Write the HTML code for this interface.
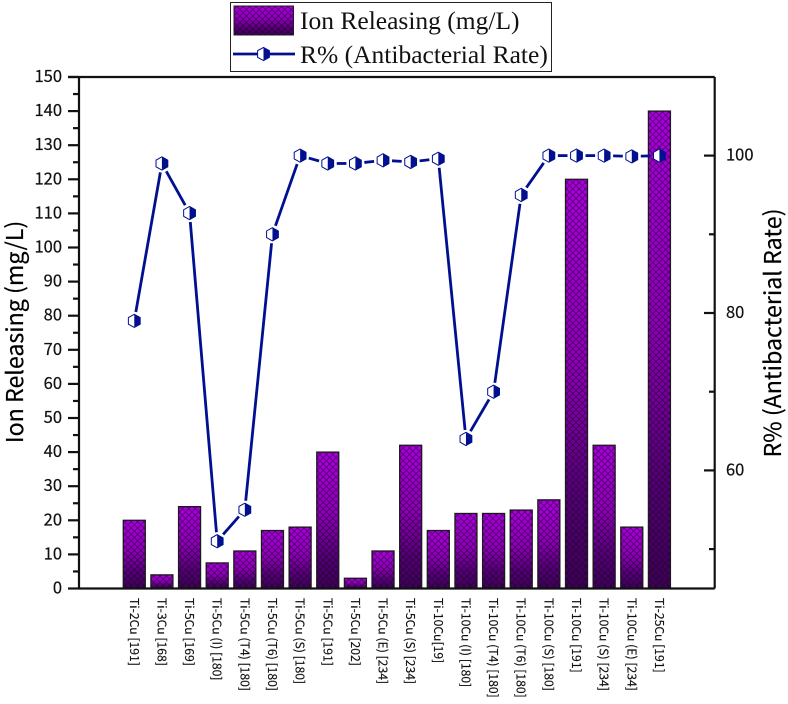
<!DOCTYPE html>
<html>
<head>
<meta charset="utf-8">
<title>Ion Releasing and Antibacterial Rate</title>
<style>
html,body{margin:0;padding:0;background:#fff;}
svg{display:block;}
.tick{font-family:"Noto Sans CJK SC","Liberation Sans",sans-serif;font-size:16.5px;fill:#111;stroke:#111;stroke-width:.2px;}
.cat{font-family:"Noto Sans CJK SC","Liberation Sans",sans-serif;font-size:12.2px;fill:#111;stroke:#111;stroke-width:.15px;}
.title{font-family:"Noto Sans CJK SC","Liberation Sans",sans-serif;font-size:23.2px;fill:#000;stroke:#000;stroke-width:.2px;}
.leg{font-family:"Liberation Serif",serif;font-size:25.5px;fill:#111;}
</style>
</head>
<body>
<svg id="chart" xmlns="http://www.w3.org/2000/svg" width="788" height="704" viewBox="0 0 788 704">
<defs>
<linearGradient id="barGrad" x1="0" y1="0" x2="0" y2="1">
<stop offset="0" stop-color="#a800dc"/>
<stop offset="0.45" stop-color="#8e00b8"/>
<stop offset="0.78" stop-color="#520074"/>
<stop offset="1" stop-color="#3c0055"/>
</linearGradient>
<pattern id="hatch" width="6.4" height="6.4" patternUnits="userSpaceOnUse">
<path d="M0 0L6.4 6.4M6.4 0L0 6.4" stroke="#1a0022" stroke-width="0.9" opacity="0.55" fill="none"/>
</pattern>
</defs>
<g id="bars"></g>
<g id="line"></g>
<g id="axes"></g>
<g>
<rect x="230.5" y="2.5" width="321" height="69" fill="#fff" stroke="#222" stroke-width="1"/>
<rect x="234" y="6" width="59.5" height="29" fill="url(#barGrad)" stroke="#222" stroke-width="1"/>
<rect x="234" y="6" width="59.5" height="29" fill="url(#hatch)"/>
<text class="leg" x="300" y="29">Ion Releasing (mg/L)</text>
<line x1="233" y1="54" x2="295" y2="54" stroke="#00108f" stroke-width="2.8"/>
<g id="legendMarker"></g>
<text class="leg" x="300" y="63">R% (Antibacterial Rate)</text>
</g>
<text class="title" text-anchor="middle" transform="translate(23,332) rotate(-90)">Ion Releasing (mg/L)</text>
<text class="title" text-anchor="middle" transform="translate(781,333) rotate(-90)">R% (Antibacterial Rate)</text>
</svg>
<script>
const categories = ["Ti-2Cu [191]","Ti-3Cu [168]","Ti-5Cu [169]","Ti-5Cu (I) [180]","Ti-5Cu (T4) [180]","Ti-5Cu (T6) [180]","Ti-5Cu (S) [180]","Ti-5Cu [191]","Ti-5Cu [202]","Ti-5Cu (E) [234]","Ti-5Cu (S) [234]","Ti-10Cu[19]","Ti-10Cu (I) [180]","Ti-10Cu (T4) [180]","Ti-10Cu (T6) [180]","Ti-10Cu (S) [180]","Ti-10Cu [191]","Ti-10Cu (S) [234]","Ti-10Cu (E) [234]","Ti-25Cu [191]"];
const ionValues = [20,4,24,7.5,11,17,18,40,3,11,42,17,22,22,23,26,120,42,18,140];
const rateValues = [79,99,92.7,51,55,90,100,99,99,99.4,99.2,99.6,64,70,95,100,100,100,99.9,100];
const leftMajorTicks = [0,10,20,30,40,50,60,70,80,90,100,110,120,130,140,150];
const leftMinorTicks = [5,15,25,35,45,55,65,75,85,95,105,115,125,135,145];
const rightMajorTicks = [60,80,100];
const rightMinorTicks = [50,70,90];

const NS = "http://www.w3.org/2000/svg";
const plotL = 79, plotR = 714.7, plotT = 77, plotB = 588.5;
function xScale(i){ return plotL + (i + 2) * (plotR - plotL) / 23; }
function yLeft(v){ return plotB - v * (plotB - plotT) / 150; }
function yRight(v){ return 155.6 + (100 - v) * 7.87; }
function make(tag, attrs, parent){
  const el = document.createElementNS(NS, tag);
  for (const k in attrs) el.setAttribute(k, attrs[k]);
  parent.appendChild(el);
  return el;
}
function hexMarker(parent, cx, cy){
  const r = 6.6, w = 5.9;
  make("polygon",{points:[[cx,cy-r],[cx+w,cy-r/2],[cx+w,cy+r/2],[cx,cy+r],[cx-w,cy+r/2],[cx-w,cy-r/2]].map(p=>p.join(",")).join(" "),fill:"#fff",stroke:"#00108f","stroke-width":1},parent);
  make("polygon",{points:[[cx,cy-r],[cx+w,cy-r/2],[cx+w,cy+r/2],[cx,cy+r]].map(p=>p.join(",")).join(" "),fill:"#00108f"},parent);
}
const barsG = document.getElementById("bars");
const lineG = document.getElementById("line");
const axesG = document.getElementById("axes");

ionValues.forEach(function(v,i){
  const x = xScale(i) - 11, y = yLeft(v), h = plotB - y;
  const g = make("g",{},barsG);
  
  
  make("rect",{x:x,y:y,width:22,height:h,fill:"url(#barGrad)",stroke:"#1c1c1c","stroke-width":1.3},g);
  make("rect",{x:x,y:y,width:22,height:h,fill:"url(#hatch)"},g);
});

for (let i = 0; i < rateValues.length - 1; i++){
  const x1 = xScale(i), y1 = yRight(rateValues[i]), x2 = xScale(i+1), y2 = yRight(rateValues[i+1]);
  const d = Math.hypot(x2-x1,y2-y1), gap = 9;
  if (d <= 2*gap) continue;
  const ux = (x2-x1)/d, uy = (y2-y1)/d;
  const seg = make("line",{x1:x1+ux*gap,y1:y1+uy*gap,x2:x2-ux*gap,y2:y2-uy*gap,stroke:"#00108f","stroke-width":2.8},lineG);
  
  
}
rateValues.forEach(function(v,i){
  const g = make("g",{},lineG);
  
  
  hexMarker(g, xScale(i), yRight(v));
});
hexMarker(document.getElementById("legendMarker"), 263.5, 54);

const ax = {stroke:"#111","stroke-width":2.2};
[[plotL,plotT,plotL,plotB],[plotR,plotT,plotR,plotB],[68,plotT,plotR,plotT],[plotL,plotB,plotR,plotB]].forEach(function(c){
  const l = make("line",Object.assign({x1:c[0],y1:c[1],x2:c[2],y2:c[3]},ax),axesG);
  
  
});
leftMajorTicks.forEach(function(v){
  const y = yLeft(v);
  const t = make("line",Object.assign({x1:68,y1:y,x2:plotL,y2:y},ax),axesG);
  
  
  const s = make("text",{x:62,y:y+5,"text-anchor":"end","class":"tick"},axesG);
  
  
  s.textContent = v;
});
leftMinorTicks.forEach(function(v){
  const y = yLeft(v);
  const t = make("line",Object.assign({x1:73,y1:y,x2:plotL,y2:y},ax),axesG);
  
  
});
rightMajorTicks.forEach(function(v){
  const y = yRight(v);
  const t = make("line",Object.assign({x1:704,y1:y,x2:plotR,y2:y},ax),axesG);
  
  
  const s = make("text",{x:726,y:y+5,"class":"tick"},axesG);
  
  
  s.textContent = v;
});
rightMinorTicks.forEach(function(v){
  const y = yRight(v);
  const t = make("line",Object.assign({x1:709,y1:y,x2:plotR,y2:y},ax),axesG);
  
  
});
categories.forEach(function(c,i){
  const s = make("text",{"class":"cat",transform:"translate("+(xScale(i)-4.5)+",598) rotate(90)"},axesG);
  
  
  s.textContent = c;
});
</script>
</body>
</html>
